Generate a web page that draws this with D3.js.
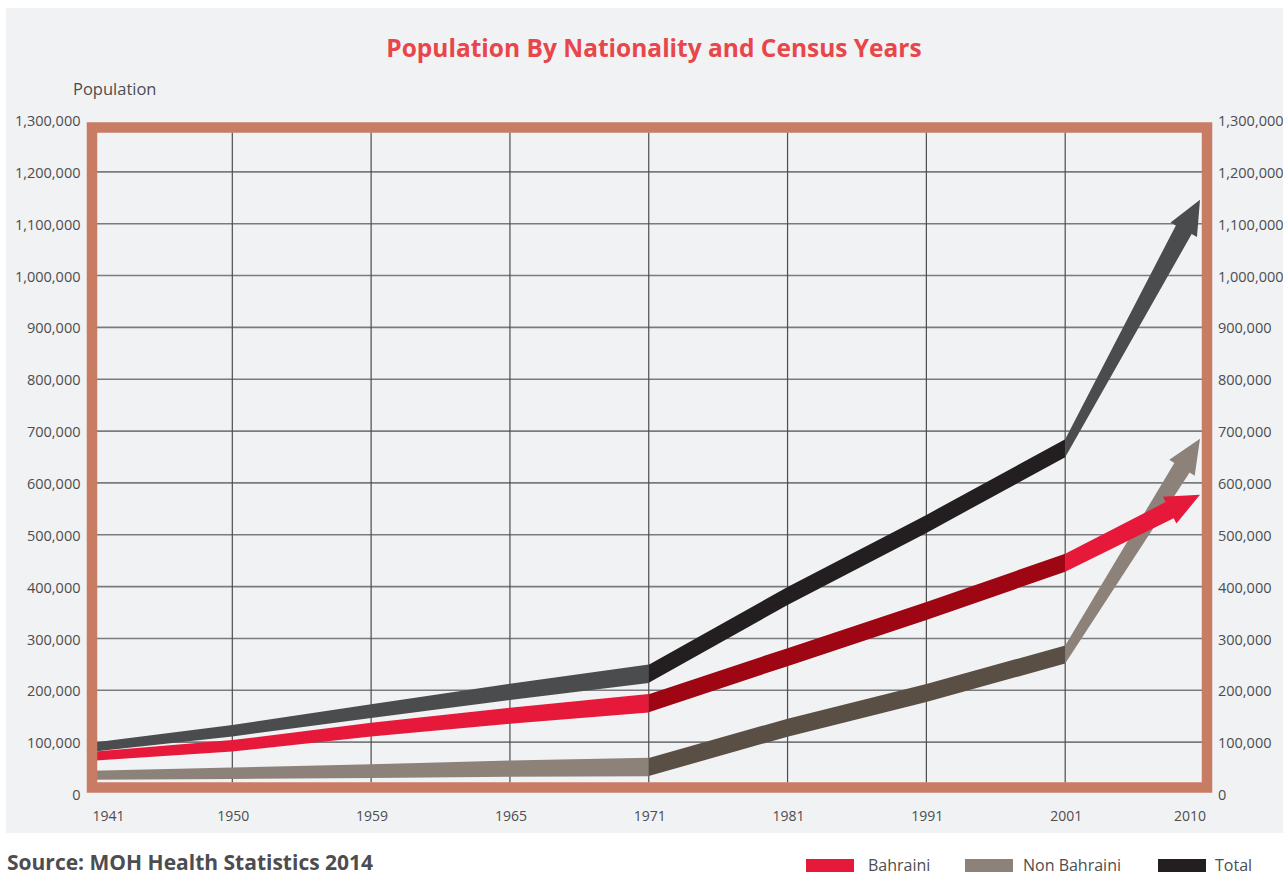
<!DOCTYPE html>
<html>
<head>
<meta charset="utf-8">
<script src="https://cdn.jsdelivr.net/npm/d3@7"></script>
<style>
  html, body { margin: 0; padding: 0; background: #ffffff; }
  svg { display: block; }
  text { font-family: "Open Sans", Lato, sans-serif; }
</style>
</head>
<body>
<svg id="chart" width="1283" height="875"></svg>
<script>
// ---- data ----
const years = ["1941", "1950", "1959", "1965", "1971", "1981", "1991", "2001", "2010"];
const bahraini    = [73000, 93000, 124000, 151000, 175000, 264000, 353000, 446000, 577000];
const nonBahraini = [36000, 40000, 44000, 49000, 52000, 128000, 195000, 269000, 685000];
const total       = [90000, 122000, 160000, 197000, 232000, 382000, 521000, 667000, 1146000];
const yTickValues = [0, 100000, 200000, 300000, 400000, 500000, 600000, 700000, 800000, 900000, 1000000, 1100000, 1200000, 1300000];
const legendLabels = ["Bahraini", "Non Bahraini", "Total"];

// ---- layout ----
const W = 1283, H = 875;
const svg = d3.select("#chart");

const x = d3.scalePoint().domain(years).range([93.5, 1204]);
const y = d3.scaleLinear().domain([0, 1300000]).range([794, 120]);

// background panel
svg.append("rect").attr("x", 0).attr("y", 0).attr("width", W).attr("height", H).attr("fill", "#ffffff");
svg.append("rect").attr("x", 6).attr("y", 8).attr("width", W - 6).attr("height", 825).attr("fill", "#f1f2f4");

// title
svg.append("text").attr("x", 654).attr("y", 56.5).attr("text-anchor", "middle")
  .attr("font-size", 24.5).attr("font-weight", 700).attr("fill", "#e8464b")
  .text("Population By Nationality and Census Years");

svg.append("text").attr("x", 73).attr("y", 95).attr("font-size", 16.5).attr("fill", "#4d4d4f").text("Population");

const frameL = x(years[0]) - 1.5, frameR = x(years[years.length - 1]) + 3;
const frameT = y(1300000) + 7.5, frameB = y(0) - 6.5;
const innerL = frameL + 5, innerR = frameR - 5;
const innerT = frameT + 5, innerB = frameB - 5;

// gridlines
svg.append("g").selectAll("line").data(yTickValues.filter(v => v > 0 && v < 1300000)).join("line")
  .attr("x1", innerL).attr("x2", innerR)
  .attr("y1", d => y(d)).attr("y2", d => y(d))
  .attr("stroke", "#7a7b7d").attr("stroke-width", 1.6);
svg.append("g").selectAll("line").data(years.slice(1, -1)).join("line")
  .attr("x1", d => x(d)).attr("x2", d => x(d))
  .attr("y1", innerT).attr("y2", innerB)
  .attr("stroke", "#4d4d4d").attr("stroke-width", 1.2);

// y axis labels (left and right)
const fmt = d3.format(",");
svg.append("g").selectAll("text").data(yTickValues).join("text")
  .attr("x", 80.5).attr("y", d => y(d) + 1).attr("dy", "0.35em").attr("text-anchor", "end")
  .attr("font-size", 14.5).attr("fill", "#4d4d4f").text(d => fmt(d));
svg.append("g").selectAll("text").data(yTickValues).join("text")
  .attr("x", 1218).attr("y", d => y(d) + 1).attr("dy", "0.35em").attr("text-anchor", "start")
  .attr("font-size", 14.5).attr("fill", "#4d4d4f").text(d => fmt(d));

// x axis labels
svg.append("g").selectAll("text").data(years).join("text")
  .attr("x", (d, i) => x(d) + (i === 0 ? 15 : i === years.length - 1 ? -14 : 1))
  .attr("y", 821).attr("text-anchor", "middle")
  .attr("font-size", 14).attr("fill", "#4d4d4f").text(d => d);

// series
const series = [
  { name: "Total", values: total, colors: ["#4b4c4e", "#231f20", "#4b4c4e"] },
  { name: "Non Bahraini", values: nonBahraini, colors: ["#8c8279", "#5a4f45", "#8c8279"] },
  { name: "Bahraini", values: bahraini, colors: ["#e6193b", "#9e0613", "#e6193b"] }
];

const area = d3.area().x(d => d.x).y0(d => d.y + d.t / 2).y1(d => d.y - d.t / 2);
const line = d3.line();

const i71 = years.indexOf("1971"), i01 = years.indexOf("2001"), i10 = years.indexOf("2010");
const xa = x(years[0]), xb = x(years[i71]);

series.forEach(s => {
  const g = svg.append("g");
  // segment 1: 1941-1971, tapering ribbon
  const seg1 = d3.range(0, i71 + 1).map(i => {
    const px = x(years[i]);
    return { x: px, y: y(s.values[i]), t: 9 + 9.5 * (px - xa) / (xb - xa) };
  });
  seg1[0].x = frameL;
  g.append("path").attr("d", area(seg1)).attr("fill", s.colors[0]);
  // segment 2: 1971-2001
  const seg2 = d3.range(i71, i01 + 1).map(i => ({ x: x(years[i]), y: y(s.values[i]), t: 18 }));
  g.append("path").attr("d", area(seg2)).attr("fill", s.colors[1]);
  // segment 3: arrow 2001-2010
  const bx = x(years[i01]), by = y(s.values[i01]);
  const tx = x(years[i10]) - 4, ty = y(s.values[i10]);
  let dx = tx - bx, dy = ty - by; const len = Math.hypot(dx, dy); dx /= len; dy /= len;
  const nx = -dy, ny = dx;
  const L = 34, w1 = 9, hw = 15;
  const qx = tx - dx * L, qy = ty - dy * L;
  const pts = [
    [bx, by + 9],
    [qx + nx * w1, qy + ny * w1],
    [qx + nx * hw, qy + ny * hw],
    [tx, ty],
    [qx - nx * hw, qy - ny * hw],
    [qx - nx * w1, qy - ny * w1],
    [bx, by - 9]
  ];
  g.append("path").attr("d", line(pts) + "Z").attr("fill", s.colors[2]);
});

// frame
svg.append("rect")
  .attr("x", frameL).attr("y", frameT)
  .attr("width", frameR - frameL).attr("height", frameB - frameT)
  .attr("fill", "none").attr("stroke", "#c97c64").attr("stroke-width", 10.5);

// source
svg.append("text").attr("x", 7).attr("y", 870).attr("font-size", 21).attr("font-weight", 700)
  .attr("fill", "#4d4d4f").text("Source: MOH Health Statistics 2014");

// legend
const legendColors = ["#e6193b", "#8c8279", "#231f20"];
const legendX = [806, 965, 1158];
const legendTextX = [868, 1023, 1215];
const lg = svg.append("g");
legendLabels.forEach((lab, i) => {
  lg.append("rect").attr("x", legendX[i]).attr("y", 859).attr("width", 48).attr("height", 13).attr("fill", legendColors[i]);
  lg.append("text").attr("x", legendTextX[i]).attr("y", 871).attr("font-size", 16).attr("fill", "#4d4d4f").text(lab);
});
</script>
</body>
</html>
